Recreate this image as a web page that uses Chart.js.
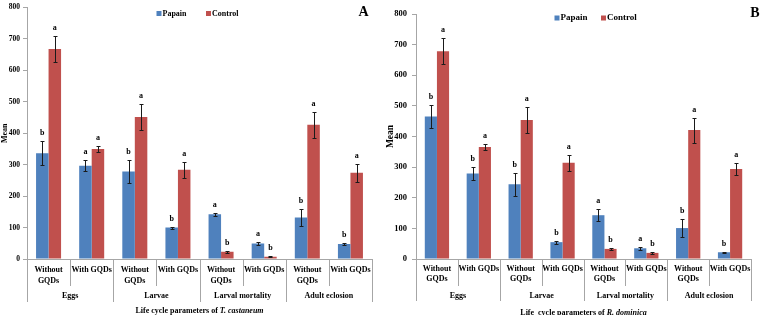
<!DOCTYPE html>
<html>
<head>
<meta charset="utf-8">
<script src="https://cdn.jsdelivr.net/npm/chart.js@4.4.0/dist/chart.umd.min.js"></script>
<style>
  html, body { margin: 0; padding: 0; background: #fff; }
  #wrap { position: relative; width: 760px; height: 315px; }
  canvas { position: absolute; top: 0; }
</style>
</head>
<body>
<div id="wrap">
  <canvas id="graficoA" width="380" height="315" style="left:0"></canvas>
  <canvas id="graficoB" width="380" height="315" style="left:380px"></canvas>
</div>
<script>
// categorias
const groups = ['Eggs', 'Larvae', 'Larval mortality', 'Adult eclosion'];
const treatments = [['Without', 'GQDs'], ['With GQDs']];
const yTicks = [0, 100, 200, 300, 400, 500, 600, 700, 800];

// Panel A - T. castaneum
const papainA = [336, 297, 278, 100, 142, 49, 132, 48];
const papainErrA = [38, 18, 37, 3, 5, 4, 27, 2];
const papainLetA = ['b', 'a', 'b', 'b', 'a', 'a', 'b', 'b'];
const controlA = [668, 350, 452, 284, 23, 7, 427, 274];
const controlErrA = [42, 9, 42, 25, 4, 2, 42, 28];
const controlLetA = ['a', 'a', 'a', 'a', 'b', 'b', 'a', 'a'];

// Panel B - R. dominica
const papainB = [465, 279, 244, 55, 143, 35, 101, 22];
const papainErrB = [37, 22, 37, 5, 20, 4, 28, 1];
const papainLetB = ['b', 'b', 'b', 'b', 'a', 'a', 'b', 'b'];
const controlB = [678, 366, 454, 314, 33, 20, 421, 294];
const controlErrB = [42, 10, 41, 27, 2, 4, 41, 21];
const controlLetB = ['a', 'a', 'a', 'a', 'b', 'b', 'a', 'a'];

const FONT = '"Liberation Serif", "Times New Roman", serif';
const BLUE = '#4f81bd';
const RED = '#c0504d';
const AXIS = '#a6a6a6';

const categories = groups.flatMap(() => treatments);

// barras de error y letras
const errorBars = {
  id: 'errorBars',
  afterDatasetsDraw(chart, args, opts) {
    const ctx = chart.ctx;
    const y = chart.scales.y;
    chart.data.datasets.forEach((ds, di) => {
      const meta = chart.getDatasetMeta(di);
      meta.data.forEach((bar, i) => {
        const v = ds.data[i], e = ds.errors[i];
        const top = Math.round(y.getPixelForValue(v + e)) + 0.5;
        const bot = Math.round(y.getPixelForValue(v - e)) + 0.5;
        const x = Math.round(bar.x) + 0.5;
        ctx.save();
        ctx.strokeStyle = '#1a1a1a';
        ctx.lineWidth = 1;
        ctx.beginPath();
        ctx.moveTo(x, top); ctx.lineTo(x, bot);
        ctx.moveTo(x - 2, top); ctx.lineTo(x + 2, top);
        ctx.moveTo(x - 2, bot); ctx.lineTo(x + 2, bot);
        ctx.stroke();
        ctx.fillStyle = '#000';
        ctx.font = 'bold ' + opts.letterSize + 'px ' + FONT;
        ctx.textAlign = 'center';
        ctx.textBaseline = 'middle';
        ctx.fillText(ds.letters[i], bar.x, top - 9);
        ctx.restore();
      });
    });
  }
};

// separadores, grupos, titulo del eje x, leyenda y letra del panel
const panelDeco = {
  id: 'panelDeco',
  afterDraw(chart, args, opts) {
    const ctx = chart.ctx;
    const x = chart.scales.x;
    const area = chart.chartArea;
    const n = chart.data.labels.length;
    ctx.save();
    ctx.strokeStyle = AXIS;
    ctx.lineWidth = 1;
    ctx.beginPath();
    for (let i = 0; i <= n; i++) {
      const px = Math.round(x.getPixelForValue(i - 0.5)) + 0.5;
      const len = i % 2 === 0 ? opts.groupTick : opts.innerTick;
      ctx.moveTo(px, area.bottom);
      ctx.lineTo(px, area.bottom + len);
    }
    ctx.stroke();

    ctx.fillStyle = '#000';
    ctx.textAlign = 'center';
    ctx.textBaseline = 'middle';
    ctx.font = 'bold 8px ' + FONT;
    groups.forEach((g, gi) => {
      ctx.fillText(g, x.getPixelForValue(gi * 2 + 0.5), area.bottom + opts.groupY);
    });

    // titulo con especie en cursiva
    const normal = 'bold 8px ' + FONT;
    const italic = 'italic bold 8px ' + FONT;
    ctx.font = normal;
    const w1 = ctx.measureText(opts.titleText).width;
    ctx.font = italic;
    const w2 = ctx.measureText(opts.species).width;
    let tx = (area.left + area.right) / 2 - (w1 + w2) / 2;
    const ty = area.bottom + opts.titleY;
    ctx.textAlign = 'left';
    ctx.font = normal;
    ctx.fillText(opts.titleText, tx, ty);
    ctx.font = italic;
    ctx.fillText(opts.species, tx + w1, ty);

    // leyenda
    ctx.font = 'bold ' + opts.legendSize + 'px ' + FONT;
    chart.data.datasets.forEach((ds, di) => {
      const lx = opts.legend[di];
      ctx.fillStyle = ds.backgroundColor;
      ctx.fillRect(lx, opts.legendY - 2.5, 5, 5);
      ctx.fillStyle = '#000';
      ctx.fillText(ds.label, lx + 6, opts.legendY);
    });

    ctx.font = 'bold 14px ' + FONT;
    ctx.textAlign = 'center';
    ctx.fillText(opts.panel, opts.panelX, opts.panelY);
    ctx.restore();
  }
};

function buildChart(id, p) {
  const ctx = document.getElementById(id).getContext('2d');
  return new Chart(ctx, {
    type: 'bar',
    data: {
      labels: categories,
      datasets: [
        { label: 'Papain', data: p.papain, errors: p.papainErr, letters: p.papainLet, backgroundColor: BLUE },
        { label: 'Control', data: p.control, errors: p.controlErr, letters: p.controlLet, backgroundColor: RED }
      ]
    },
    options: {
      responsive: false,
      animation: false,
      layout: { padding: { left: 0, right: p.padRight, top: p.padTop, bottom: 0 } },
      datasets: { bar: { categoryPercentage: 0.58, barPercentage: 1 } },
      plugins: {
        legend: { display: false },
        tooltip: { enabled: false },
        errorBars: { letterSize: 8 },
        panelDeco: p.deco
      },
      scales: {
        x: {
          grid: { display: false, drawTicks: false },
          border: { color: AXIS },
          ticks: {
            color: '#000', autoSkip: false, maxRotation: 0, minRotation: 0,
            padding: p.xPad,
            font: { family: FONT, weight: 'bold', size: 8, lineHeight: 1.3 }
          },
          afterFit: s => { s.height = 315 - p.bottom; }
        },
        y: {
          min: 0, max: 800,
          afterBuildTicks: s => { s.ticks = yTicks.map(v => ({ value: v })); },
          grid: { drawOnChartArea: false, tickLength: 4, color: AXIS },
          border: { color: AXIS },
          ticks: {
            color: '#000', padding: p.yPad,
            font: { family: FONT, weight: 'bold', size: p.tickSize }
          },
          title: {
            display: true, text: 'Mean', color: '#000',
            padding: { top: p.titlePad, bottom: 0 },
            font: { family: FONT, weight: 'bold', size: p.titleSize }
          },
          afterFit: s => { s.width = p.yWidth; }
        }
      }
    },
    plugins: [errorBars, panelDeco]
  });
}

buildChart('graficoA', {
  papain: papainA, papainErr: papainErrA, papainLet: papainLetA,
  control: controlA, controlErr: controlErrA, controlLet: controlLetA,
  padRight: 8, padTop: 4, bottom: 259, xPad: 6, yWidth: 27, yPad: 3,
  tickSize: 7.5, titleSize: 8, titlePad: 0,
  deco: {
    innerTick: 27, groupTick: 43, groupY: 37, titleY: 52,
    titleText: 'Life cycle parameters of ', species: 'T. castaneum',
    legend: [156.5, 206], legendY: 13.5, legendSize: 8,
    panel: 'A', panelX: 363.5, panelY: 12
  }
});

buildChart('graficoB', {
  papain: papainB, papainErr: papainErrB, papainLet: papainLetB,
  control: controlB, controlErr: controlErrB, controlLet: controlLetB,
  padRight: 9, padTop: 14, bottom: 259, xPad: 4.5, yWidth: 36, yPad: 5,
  tickSize: 8.5, titleSize: 9.5, titlePad: 4.5,
  deco: {
    innerTick: 27, groupTick: 42, groupY: 36.7, titleY: 53.7,
    titleText: 'Life  cycle parameters of ', species: 'R. dominica',
    legend: [174.5, 221], legendY: 18, legendSize: 9,
    panel: 'B', panelX: 375, panelY: 13
  }
});
</script>
</body>
</html>
